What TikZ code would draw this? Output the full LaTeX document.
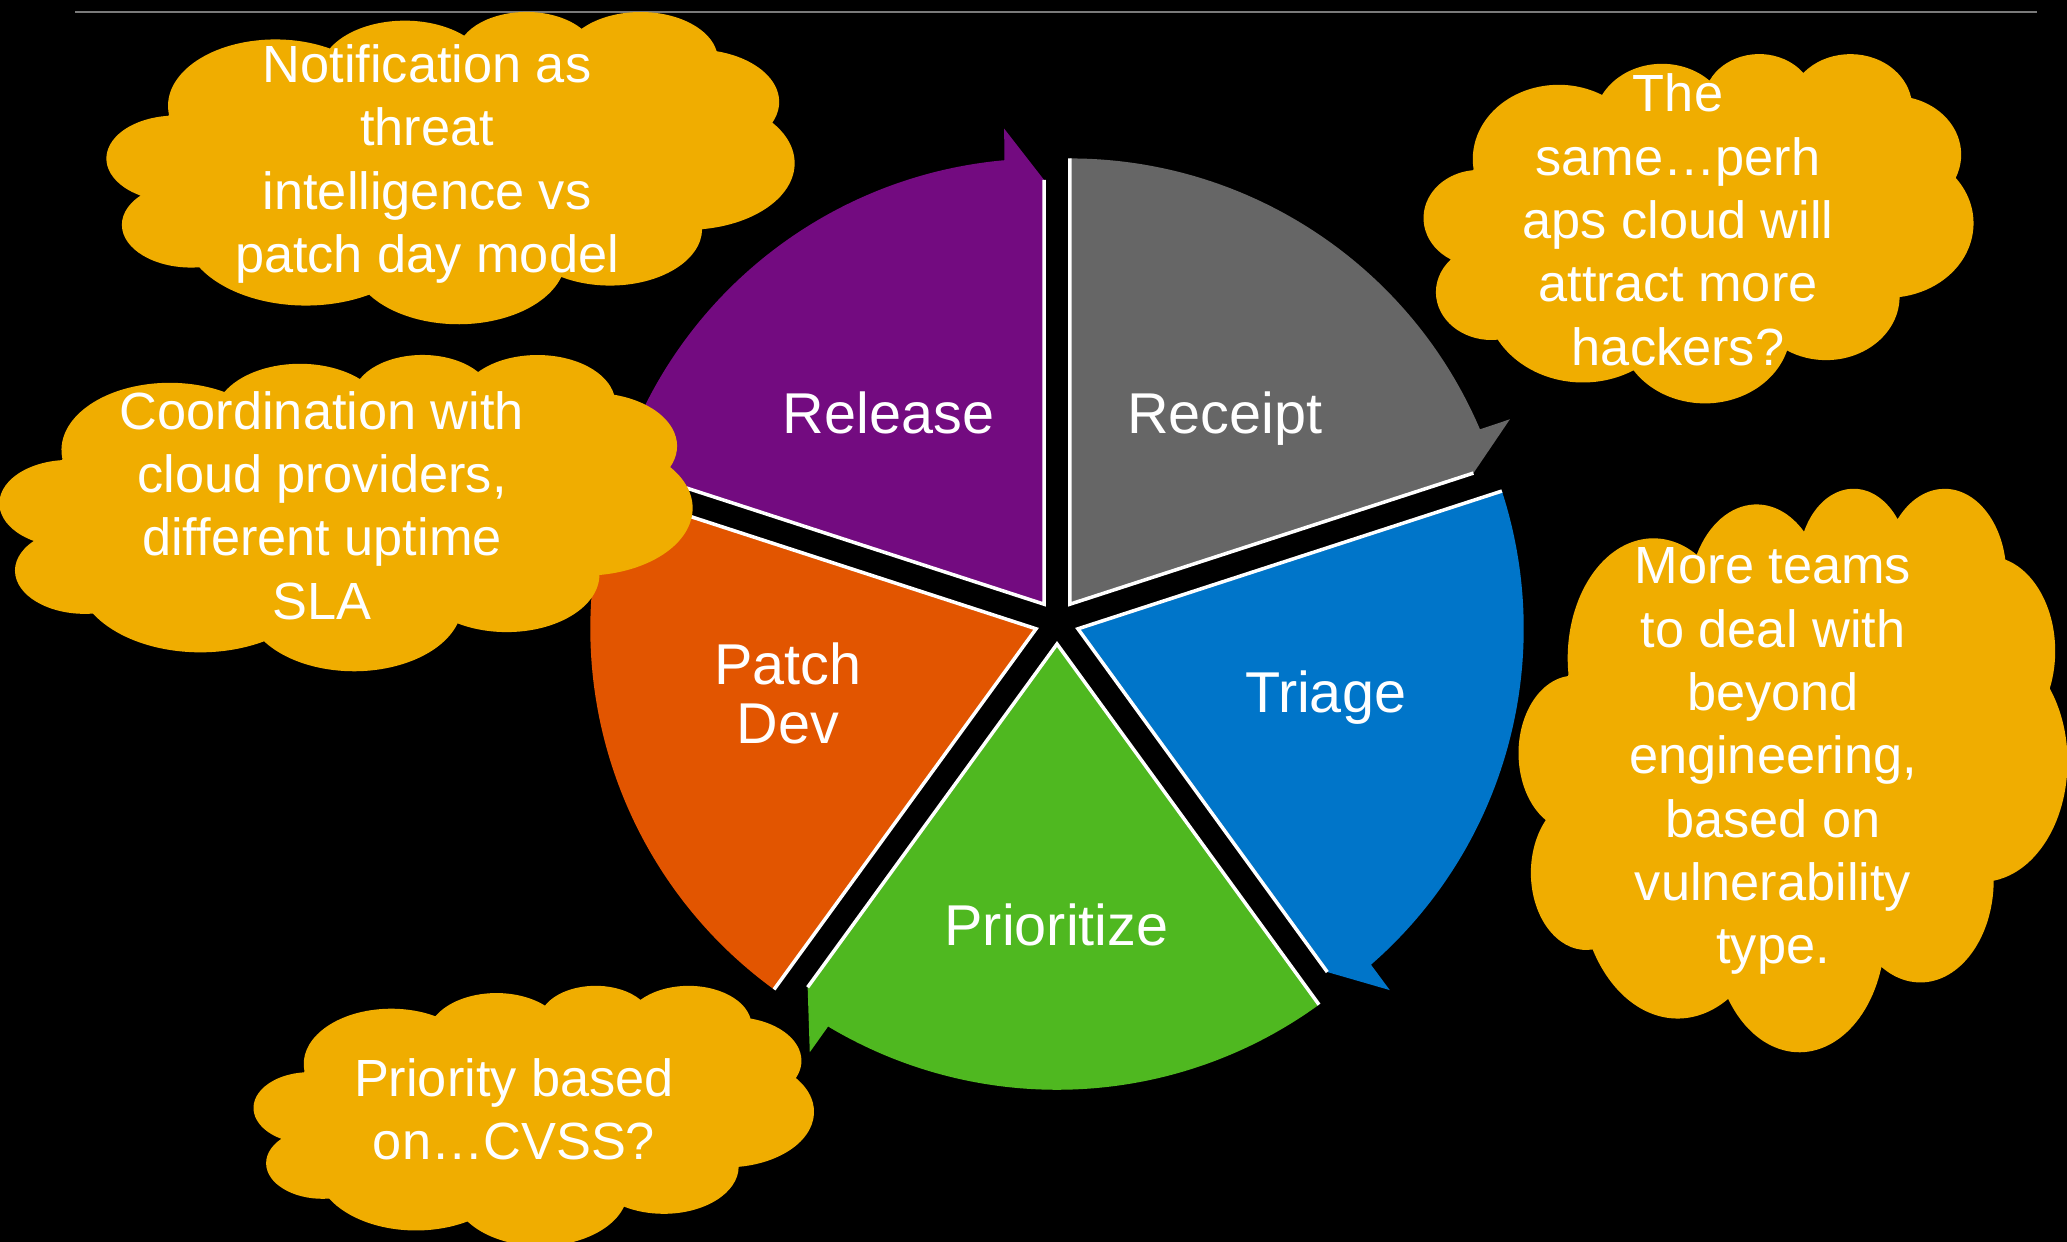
\documentclass[tikz,border=0pt]{standalone}
\usepackage{fontspec}
\setmainfont{Liberation Sans}
\usetikzlibrary{calc}
\definecolor{cloudc}{HTML}{F0AD00}
\definecolor{cpurple}{HTML}{730B80}
\definecolor{cgray}{HTML}{666666}
\definecolor{cblue}{HTML}{0075C9}
\definecolor{cgreen}{HTML}{4FB820}
\definecolor{corange}{HTML}{E25500}
\definecolor{rulec}{HTML}{7A7A7A}
\tikzset{
  cloudfill/.style={fill=cloudc},
  wedgelabel/.style={text=white, font=\fontsize{16.37pt}{16.84pt}\selectfont, inner sep=0pt},
  cloudtext/.style={text=white, font=\fontsize{14.88pt}{18pt}\selectfont, inner sep=0pt, align=center, anchor=north},
  edgeline/.style={draw=white, line width=1.0pt, line join=miter},
}
% wedge: #1 name, #2 bisector angle, #3 colour
\newcommand\pieWedge[3]{%
  \coordinate (#1) at ($(C)+(#2:0.22cm)$);
  \coordinate (#1s) at ($(#1)+({#2+36}:4.455cm)$);
  \coordinate (#1t) at ($(#1)+({#2-36+4.8}:4.77cm)$);
  \coordinate (#1k) at ($(#1)+({#2-36}:4.24cm)$);
  \fill[#3] (#1) -- (#1s) arc[start angle={#2+36}, end angle={#2-36+5.1}, radius=4.455cm] -- (#1t) -- (#1k) -- cycle;
  \draw[edgeline] (#1k) -- (#1) -- (#1s);
}
% cloud: #1 x0, #2 top (y-up), #3 width, #4 height
\newcommand\cloudShape[4]{%
  \begin{scope}[shift={(#1,#2)}, xscale=#3/432, yscale=-#4/432]
  \fill[cloudfill] (39.00,143.70)
    arc[start angle=172.255, end angle=300.36, x radius=0.6753cm, y radius=0.9190cm]
    arc[start angle=-152.03, end angle=-45.45, x radius=0.5333cm, y radius=0.7267cm]
    arc[start angle=-153.50, end angle=-37.35, x radius=0.4365cm, y radius=0.5945cm]
    arc[start angle=-139.71, end angle=-10.21, x radius=0.4857cm, y radius=0.6595cm]
    arc[start angle=-74.77, end angle=23.21, x radius=0.5333cm, y radius=0.7273cm]
    arc[start angle=-37.53, end angle=81.86, x radius=0.6775cm, y radius=0.9220cm]
    arc[start angle=0.46, end angle=121.98, x radius=0.5785cm, y radius=0.7867cm]
    arc[start angle=16.84, end angle=146.23, x radius=0.6752cm, y radius=0.9215cm]
    arc[start angle=58.98, end angle=150.17, x radius=0.7720cm, y radius=1.0543cm]
    arc[start angle=83.31, end angle=223.09, x radius=0.4360cm, y radius=0.5918cm]
    arc[start angle=120.36, end angle=264.11, x radius=0.4345cm, y radius=0.5945cm]
    -- cycle;
  \end{scope}
}
\begin{document}
\begin{tikzpicture}[x=0.01cm, y=0.01cm]
\useasboundingbox (0,0) rectangle (2067,1241);
\fill[black] (-20,-20) rectangle (2087,1261);
% top rule
\coordinate (ruleL) at (75,1229);
\coordinate (ruleR) at (2037,1229);
\draw[rulec, line width=0.02cm] (ruleL) -- (ruleR);
% cycle
\coordinate (C) at (1057,619);
\pieWedge{wgray}{54}{cgray}
\pieWedge{wblue}{-18}{cblue}
\pieWedge{wgreen}{-90}{cgreen}
\pieWedge{worange}{198}{corange}
\pieWedge{wpurple}{126}{cpurple}
\node[wedgelabel, anchor=base] (release) at (888.5,807.4) {Release};
\node[wedgelabel, anchor=base] (receipt) at (1225,807.4) {Receipt};
\node[wedgelabel, anchor=base] (triage) at (1325.5,528.6) {Triage};
\node[wedgelabel, anchor=base] (prioritize) at (1056.5,296) {Prioritize};
\node[wedgelabel, anchor=north, align=center] (patchdev) at (788,598.9) {Patch\\Dev};
% clouds
\cloudShape{107}{1230}{687}{312}
\cloudShape{1424}{1188}{549}{349}
\cloudShape{0}{887}{692}{316}
\cloudShape{1519}{754}{548}{563}
\cloudShape{254}{256}{559.5}{260}
\node[cloudtext] (c1) at (427,1197) {Notification as\\threat\\intelligence vs\\patch day model};
\node[cloudtext] (c2) at (1678,1167.7) {The\\same…perh\\aps cloud will\\attract more\\hackers?};
\node[cloudtext] (c3) at (322,850.4) {Coordination with\\cloud providers,\\different uptime\\SLA};
\node[cloudtext] (c4) at (1773,693.9) {More teams\\to deal with\\beyond\\engineering,\\based on\\vulnerability\\type.};
\node[cloudtext] (c5) at (514,183) {Priority based\\on…CVSS?};
\end{tikzpicture}
\end{document}
